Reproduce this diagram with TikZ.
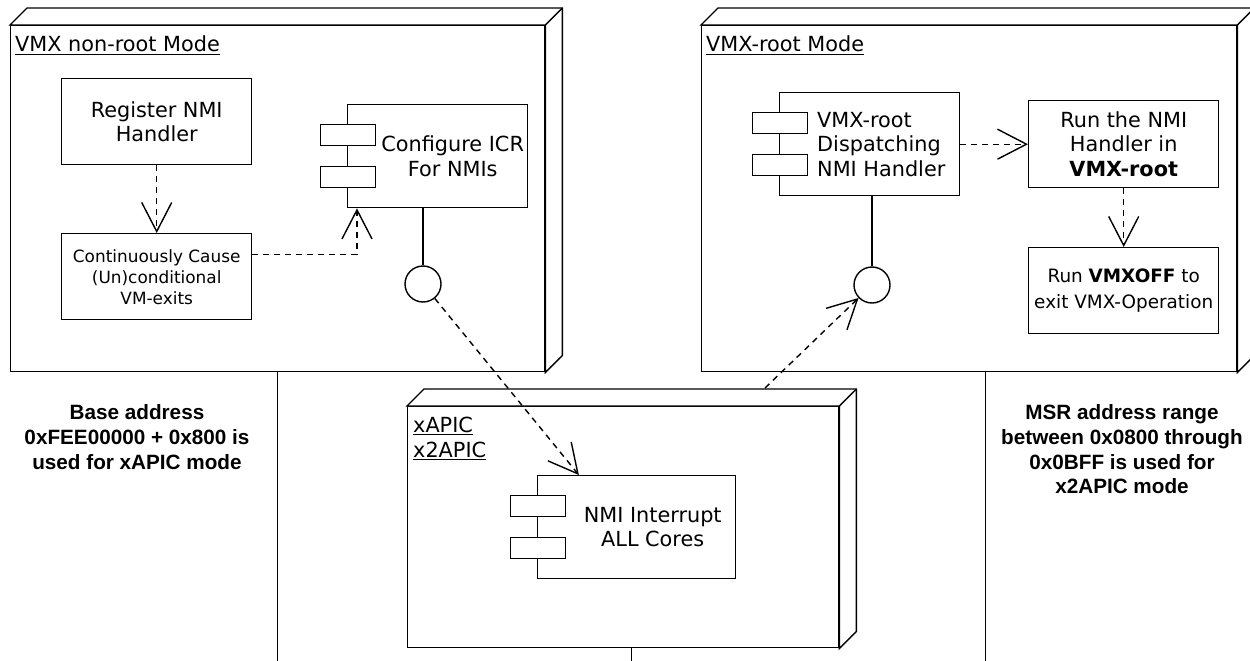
\documentclass[tikz,border=0pt]{standalone}
\usepackage{fontspec}
\setmainfont{DejaVu Sans}
\newfontfamily\arialfont{Liberation Sans}
\usetikzlibrary{arrows.meta,calc}
\begin{document}
\begin{tikzpicture}[x=1pt,y=-1pt,
  lw/.style={line width=1.4pt},
  box/.style={draw, line width=1.4pt, fill=white, inner sep=0pt, anchor=north west},
  port/.style={draw, line width=1.4pt, fill=white, inner sep=0pt, minimum width=55pt, minimum height=21pt, anchor=north west},
  lolli/.style={circle, draw, line width=1.4pt, fill=white, minimum size=36pt, inner sep=0pt},
  txt/.style={font=\fontsize{20.8}{24.5}\selectfont, align=center, inner sep=0pt},
  ttl/.style={font=\fontsize{20.8}{24.5}\selectfont, inner sep=0pt, anchor=base west},
  note/.style={font=\arialfont\bfseries\fontsize{20.7}{24.7}\selectfont, align=center, inner sep=0pt},
  dep/.style={line width=1.4pt, dash pattern=on 6pt off 5pt, -{Straight Barb[length=29pt,width=30pt]}},
  link/.style={line width=1.4pt}
]
\fill[white] (0,0) rectangle (1250,661);
\useasboundingbox (0,0) rectangle (1250,661);

% ---------- node A: VMX non-root ----------
\node[box, minimum width=534pt, minimum height=346pt] (A) at (10,25) {};
\draw[lw, fill=white] (A.north west) -- ++(17,-17) -- ($(A.north east)+(17,-17)$) -- ($(A.south east)+(17,-17)$) -- (A.south east) -- (A.north east) -- cycle;
\draw[lw] (A.north east) -- ++(17,-17);
\node[ttl] (tA) at (15,52) {VMX non-root Mode};
\draw[link] ($(tA.base west)+(0,2.5)$) -- ($(tA.base east)+(0,2.5)$);

\node[box, txt, minimum width=190pt, minimum height=86pt] (reg) at (61,78) {Register NMI\\Handler};
\node[box, minimum width=190pt, minimum height=86pt, font=\fontsize{16.9}{21}\selectfont, align=center] (cont) at (61,233) {Continuously Cause\\(Un)conditional\\VM-exits};

\node[box, minimum width=180pt, minimum height=103pt] (cfg) at (347,104) {};
\node[port] (cfgp1) at ($(cfg.north west)+(-27,20)$) {};
\node[port] (cfgp2) at ($(cfg.north west)+(-27,62)$) {};
\node[txt] (cfgt) at ($(cfg.center)+(15,0)$) {Configure ICR\\For NMIs};

\node[lolli] (la) at (423,284) {};
\draw[link] (la) -- (la |- cfg.south);

\draw[dep] (reg.south) -- (cont.north);
\draw[dep] ($(cont.north east)!0.245!(cont.south east)$) -| ($(cfg.south west)+(10,0)$);

% ---------- node B: VMX-root ----------
\node[box, minimum width=535pt, minimum height=346pt] (B) at (701,25) {};
\draw[lw, fill=white] (B.north west) -- ++(17,-17) -- ($(B.north east)+(17,-17)$) -- ($(B.south east)+(17,-17)$) -- (B.south east) -- (B.north east) -- cycle;
\draw[lw] (B.north east) -- ++(17,-17);
\node[ttl] (tB) at (706,52) {VMX-root Mode};
\draw[link] ($(tB.base west)+(0,2.5)$) -- ($(tB.base east)+(0,2.5)$);

\node[box, minimum width=180pt, minimum height=103pt] (disp) at (779,92) {};
\node[port] (dispp1) at ($(disp.north west)+(-27,20)$) {};
\node[port] (dispp2) at ($(disp.north west)+(-27,62)$) {};
\node[txt, align=left, anchor=west] (dispt) at ($(disp.west)+(38,0)$) {VMX-root\\Dispatching\\NMI Handler};

\node[box, txt, minimum width=190pt, minimum height=87pt] (run) at (1028,100) {Run the NMI\\Handler in\\\textbf{VMX-root}};
\node[box, minimum width=190pt, minimum height=86pt, font=\fontsize{18.4}{26}\selectfont, align=center] (off) at (1028,247) {Run \textbf{VMXOFF} to\\exit VMX-Operation};

\node[lolli] (lb) at (872,285) {};
\draw[link] (lb) -- (lb |- disp.south);

\draw[dep] (disp.east) -- (run.west);
\draw[dep] (run.south) -- (off.north);

% ---------- node C: xAPIC ----------
\node[box, minimum width=431pt, minimum height=241pt] (C) at (407,406) {};
\draw[lw, fill=white] (C.north west) -- ++(17,-17) -- ($(C.north east)+(17,-17)$) -- ($(C.south east)+(17,-17)$) -- (C.south east) -- (C.north east) -- cycle;
\draw[lw] (C.north east) -- ++(17,-17);
\node[ttl] (tC1) at (413,432) {xAPIC};
\draw[link] ($(tC1.base west)+(0,2.5)$) -- ($(tC1.base east)+(0,2.5)$);
\node[ttl] (tC2) at (413,457) {x2APIC};
\draw[link] ($(tC2.base west)+(0,2.5)$) -- ($(tC2.base east)+(0,2.5)$);

\node[box, minimum width=198pt, minimum height=103pt] (nmi) at (537,475) {};
\node[port] (nmip1) at ($(nmi.north west)+(-27,20)$) {};
\node[port] (nmip2) at ($(nmi.north west)+(-27,62)$) {};
\node[txt] (nmit) at ($(nmi.center)+(16,0)$) {NMI Interrupt\\ALL Cores};

\coordinate (cTop) at ($(C.north west)+(358,-18)$);

% ---------- cross connectors ----------
\draw[dep] (la) -- ($(nmi.north west)!0.21!(nmi.north east)$);
\draw[dep] (cTop) -- (lb);

% ---------- stems ----------
\draw[link] (A.south) -- ++(0,300);
\draw[link] ($(C.south)+(8.5,0)$) -- ++(0,30);
\draw[link] ($(B.south)+(16,0)$) -- ++(0,300);

% ---------- notes ----------
\node[note] (nA) at (137,437) {Base address\\0xFEE00000 + 0x800 is\\used for xAPIC mode};
\node[note] (nB) at (1122,449.5) {MSR address range\\between 0x0800 through\\0x0BFF is used for\\x2APIC mode};
\end{tikzpicture}
\end{document}
